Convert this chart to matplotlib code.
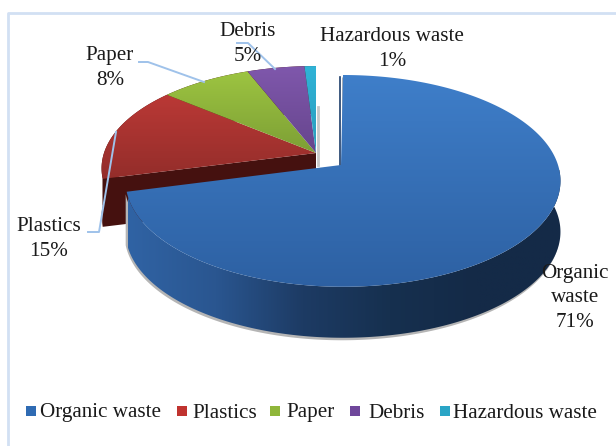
import numpy as np
import matplotlib
matplotlib.use('Agg')
import matplotlib.pyplot as plt
from matplotlib.colors import LinearSegmentedColormap
from matplotlib.patches import Polygon, Rectangle

categories = ['Organic waste', 'Plastics', 'Paper', 'Debris', 'Hazardous waste']
values = [71, 15, 8, 5, 1]
percent_labels = ['71%', '15%', '8%', '5%', '1%']

top_colors = [('#3f7fca', '#2d60a2'), ('#c93d3a', '#8f2c29'), ('#a0c842', '#6f8f30'),
              ('#8058ad', '#5c3e80'), ('#30b4d8', '#2a93b0')]
legend_colors = ['#2f6bb3', '#c0332f', '#8fb63a', '#6f479b', '#2aa5c6']

plt.rcParams['font.family'] = ['Liberation Serif', 'DejaVu Serif']
text_color = '#1a1a1a'
leader_color = '#9fc2ea'

fig = plt.figure(figsize=(6.16, 4.46), dpi=100)
ax = fig.add_axes([0, 0, 1, 1])
ax.set_xlim(0, 616)
ax.set_ylim(446, 0)
ax.axis('off')


# pie circle seen in perspective, t is clockwise from the top
def rim(t, x0, y0, a, b=103.5, k=0.15):
    d = 1 + k * np.cos(t)
    return x0 + a * np.sin(t) / d, y0 - b * np.cos(t) / d


def gradient(poly, colors, extent, horizontal=False, z=2):
    cmap = LinearSegmentedColormap.from_list('g', colors)
    arr = np.linspace(0, 1, 256)
    arr = arr.reshape(1, -1) if horizontal else arr.reshape(-1, 1)
    im = ax.imshow(arr, cmap=cmap, extent=extent, aspect='auto', origin='upper', zorder=z)
    patch = Polygon(poly, closed=True, transform=ax.transData, fc='none', ec='none')
    ax.add_patch(patch)
    im.set_clip_path(patch)


angles = np.cumsum([0] + values) / 100 * 2 * np.pi
thick = 48

# small slices are pulled away from the organic slice
x0, y0, a, b0 = 316, 153, 212, 100
t_rest = np.linspace(angles[1], angles[-1], 200)
rx, ry = rim(t_rest, x0, y0, a, b0)
side = np.concatenate([np.column_stack([rx, ry]), np.column_stack([rx, ry + thick])[::-1]])
ax.add_patch(Polygon(side, closed=True, fc='#4a1210', ec='none', zorder=1))
ex, ey = rim(angles[1], x0, y0, a, b0)
ax.add_patch(Polygon([(x0, y0), (ex, ey), (ex, ey + thick), (x0, y0 + thick)],
                     closed=True, fc='#45110f', ec='none', zorder=1.5))
ax.plot([x0 + 2, x0 + 2], [y0 - 46, y0 + 12], color='#c8c8c8', lw=2, zorder=0.8)
for i in range(1, 5):
    t = np.linspace(angles[i], angles[i + 1], 80)
    px, py = rim(t, x0, y0, a, b0)
    poly = np.vstack([[x0, y0], np.column_stack([px, py])])
    gradient(poly, top_colors[i], [90, 330, y0 + 35, y0 - 90], z=2)

# organic slice
x1, y1, a1 = 343, 165, 215
t = np.linspace(angles[0], angles[1], 300)
px, py = rim(t, x1, y1, a1)
side = np.concatenate([np.column_stack([px, py]), np.column_stack([px, py + thick + 3])[::-1]])
# soft shadow under the rim
ax.add_patch(Polygon(side + [-1, 2.5], closed=True, fc='#b5b5b5', ec='none', zorder=2.5))
gradient(side, ['#3063a4', '#2a5690', '#1d3b64', '#16304f', '#142a47', '#142a47'], [128, 565, 345, 170],
         horizontal=True, z=3)
poly = np.vstack([[x1 - 2, y1], np.column_stack([px, py])])
gradient(poly, top_colors[0], [120, 565, 290, 72], z=4)
ax.plot([x1 - 3, x1 - 3], [y1 - 88, y1], color='#1d3d6b', lw=1.2, zorder=3.5)

# chart border, cut off by the crop on the right and bottom
ax.plot([8, 8, 616], [446, 13, 13], color='#d2e0f3', lw=2, zorder=1)

# data labels
label_pos = [(575, 298), (49, 239), (110, 68), (248, 44), (392, 49)]
label_names = ['Organic\nwaste', categories[1], categories[2], categories[3], categories[4]]
for (lx, ly), name, pct in zip(label_pos, label_names, percent_labels):
    ax.text(lx, ly, name + '\n' + pct, ha='center', va='center', fontsize=15.2,
            color=text_color, linespacing=1.37, zorder=6)

# leader lines
ax.plot([88, 99, 116], [232, 232, 132], color=leader_color, lw=1.4, zorder=5)
ax.plot([139, 148, 204], [62, 62, 82], color=leader_color, lw=1.4, zorder=5)
ax.plot([237, 248, 275], [43, 43, 69], color=leader_color, lw=1.4, zorder=5)

# legend
marker_x = [26, 177, 270, 350, 440]
text_x = [40, 192, 286, 368, 453]
for mx, tx, name, col in zip(marker_x, text_x, categories, legend_colors):
    ax.add_patch(Rectangle((mx, 406), 10, 10, fc=col, ec='none', zorder=6))
    ax.text(tx, 413, name, ha='left', va='center', fontsize=15.2, color=text_color, zorder=6)

ax.set_xlim(0, 616)
ax.set_ylim(446, 0)
fig.savefig('out.png', dpi=100, facecolor='white')
